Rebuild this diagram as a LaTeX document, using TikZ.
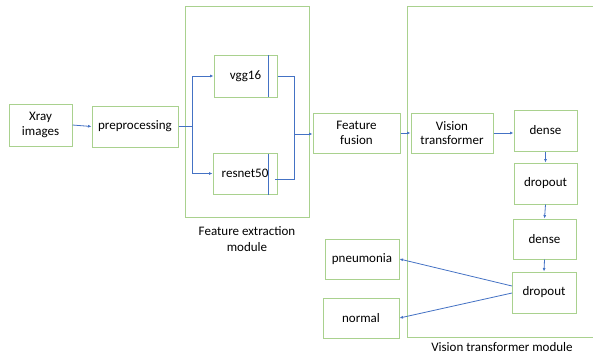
\documentclass[tikz,border=0pt]{standalone}
\usepackage{fontspec}
\setmainfont{Carlito}
\usetikzlibrary{arrows.meta}
\definecolor{boxgreen}{HTML}{A9D18E}
\definecolor{lineblue}{HTML}{4472C4}
\begin{document}
\begin{tikzpicture}[x=1pt,y=-1pt,
  box/.style={draw=boxgreen,line width=1pt,rectangle,align=center,inner sep=1pt,font=\fontsize{13}{14.5}\selectfont},
  module/.style={draw=boxgreen,line width=1pt},
  conn/.style={draw=lineblue,line width=0.8pt,-{Latex[length=3.5pt,width=3pt]}},
  plain/.style={draw=lineblue,line width=0.8pt},
  lbl/.style={align=center,font=\fontsize{13}{16}\selectfont}]
\useasboundingbox (0,0) rectangle (593,360);
\begin{scope}
\clip (0,0) rectangle (593,360);
% module frames
\draw[module] (185,6) rectangle (309,217);
\draw[module] (407,6) rectangle (620,337);
\end{scope}
% nodes
\node[box,minimum width=63pt,minimum height=42pt] (xray) at (40.5,125) {Xray\\images};
\node[box,minimum width=86pt,minimum height=41pt] (prep) at (135,126.5) {preprocessing};
\node[box,minimum width=63pt,minimum height=42pt] (vgg) at (245.5,76) {vgg16};
\node[box,minimum width=64pt,minimum height=41pt] (res) at (245,173.5) {resnet50};
\node[box,minimum width=87pt,minimum height=40pt] (fus) at (356.5,133) {Feature\\fusion};
\node[box,minimum width=82pt,minimum height=40pt] (vit) at (452,133) {Vision\\transformer};
\node[box,minimum width=63pt,minimum height=41pt] (d1) at (545.5,130.5) {dense};
\node[box,minimum width=63pt,minimum height=41pt] (do1) at (545.5,183.5) {dropout};
\node[box,minimum width=63pt,minimum height=40pt] (d2) at (544.5,239) {dense};
\node[box,minimum width=64pt,minimum height=41pt] (do2) at (544,292.5) {dropout};
\node[box,minimum width=74pt,minimum height=40pt] (pn) at (362,259) {pneumonia};
\node[box,minimum width=76pt,minimum height=40pt] (nm) at (361,318) {normal};
% labels
\node[lbl] (felbl) at (247,239) {Feature extraction\\module};
\node[lbl] (vtlbl) at (502,347) {Vision transformer module};
% inner lines of backbone boxes
\coordinate (vgtop) at (268,55);
\coordinate (vgbot) at (268,97);
\coordinate (rstop) at (268,154);
\coordinate (rsbot) at (268,195);
\draw[plain] (vgtop) -- (vgbot);
\draw[plain] (rstop) -- (rsbot);
% coordinates
\coordinate (split) at (192,126.5);
\coordinate (mergetop) at (294,76);
\coordinate (mergebot) at (294,179);
\coordinate (resout) at (275,179);
\coordinate (mergemid) at (294,134);
\coordinate (o1) at (512,286);
\coordinate (o2) at (512,293);
% connectors
\draw[conn] (xray.east) -- (prep.west);
\draw[plain] (prep.east) -- (split);
\draw[conn] (split) |- (vgg.west);
\draw[conn] (split) |- (res.west);
\draw[plain] (vgg.east) -- (mergetop) -- (mergebot) -- (resout);
\draw[conn] (mergemid) -- (mergemid -| fus.west);
\draw[conn] (fus.east |- 0,133) -- (vit.west |- 0,133);
\draw[conn] (vit.east) -- (vit.east -| d1.west);
\draw[conn] (d1.south) -- (do1.north);
\draw[conn] (do1.south) -- (d2.north);
\draw[conn] (d2.south) -- (do2.north);
\draw[conn] (o1) -- (pn.east);
\draw[conn] (o2) -- (nm.east);
\end{tikzpicture}
\end{document}
